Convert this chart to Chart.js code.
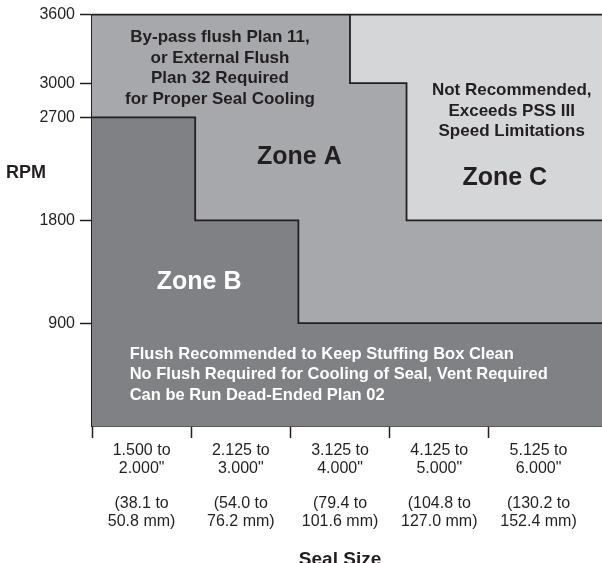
<!DOCTYPE html>
<html>
<head>
<meta charset="utf-8">
<title>Seal zones by RPM and seal size</title>
<script src="https://cdn.jsdelivr.net/npm/chart.js@4.4.1/dist/chart.umd.min.js"></script>
<style>
    html, body { margin: 0; padding: 0; background: #fff; overflow: hidden; }
    #wrap { width: 602px; height: 563px; overflow: hidden; }
</style>
</head>
<body>
<div id="wrap"><canvas id="zoneChart" width="602" height="580"></canvas></div>
<script>
// Seal size categories (x axis), one unit per category
const sizeLabels = [
    ['1.500 to', '2.000"', '', '(38.1 to', '50.8 mm)'],
    ['2.125 to', '3.000"', '', '(54.0 to', '76.2 mm)'],
    ['3.125 to', '4.000"', '', '(79.4 to', '101.6 mm)'],
    ['4.125 to', '5.000"', '', '(104.8 to', '127.0 mm)'],
    ['5.125 to', '6.000"', '', '(130.2 to', '152.4 mm)']
];
const rpmTicks = [900, 1800, 2700, 3000, 3600];

// Zone boundaries (x in size units, y in RPM)
const xEnd = 5.14;
const zoneAX = [0, xEnd];
const zoneAY = [3600, 3600];
const zoneBX = [0, 1.04, 2.08, xEnd];
const zoneBY = [2700, 1800, 900, 900];
const zoneCX = [2.6, 2.6, 3.17, xEnd];
const zoneCY = [3600, 3000, 1800, 1800];

// Notes written inside the zones
const notes = [
    { lines: ['By-pass flush Plan 11,', 'or External Flush', 'Plan 32 Required', 'for Proper Seal Cooling'], x: 1.29, y: 3400, size: 17, color: '#231f20', align: 'center' },
    { lines: ['Zone A'], x: 2.09, y: 2350, size: 25, color: '#231f20', align: 'center' },
    { lines: ['Not Recommended,', 'Exceeds PSS III', 'Speed Limitations'], x: 4.23, y: 2935, size: 17, color: '#231f20', align: 'center' },
    { lines: ['Zone C'], x: 4.16, y: 2167, size: 25, color: '#231f20', align: 'center' },
    { lines: ['Zone B'], x: 1.08, y: 1258, size: 25, color: '#ffffff', align: 'center' },
    { lines: ['Flush Recommended to Keep Stuffing Box Clean', 'No Flush Required for Cooling of Seal, Vent Required', 'Can be Run Dead-Ended Plan 02'], x: 0.38, y: 629, size: 16.5, color: '#ffffff', align: 'left' }
];

const INK = '#231f20';
const FONT = "'Liberation Sans', Arial, Helvetica, sans-serif";

function toPoints(xs, ys) {
    return xs.map((x, i) => ({ x: x, y: ys[i] }));
}

// Draws zone notes and the axis names
const notesPlugin = {
    id: 'notes',
    afterDatasetsDraw(chart) {
        const ctx = chart.ctx;
        const xs = chart.scales.x;
        const ys = chart.scales.y;
        ctx.save();
        ctx.textBaseline = 'middle';
        notes.forEach(n => {
            ctx.font = `bold ${n.size}px ${FONT}`;
            ctx.fillStyle = n.color;
            ctx.textAlign = n.align;
            const px = xs.getPixelForValue(n.x);
            const py = ys.getPixelForValue(n.y);
            n.lines.forEach((line, i) => ctx.fillText(line, px, py + i * 20.5));
        });
        // axis names
        ctx.fillStyle = INK;
        ctx.font = `bold 18px ${FONT}`;
        ctx.textAlign = 'left';
        ctx.fillText('RPM', 6, ys.getPixelForValue(2210));
        ctx.font = `bold 19px ${FONT}`;
        ctx.textAlign = 'center';
        ctx.fillText('Seal Size', xs.getPixelForValue(2.5), 560);
        ctx.restore();
    }
};

Chart.defaults.font.family = FONT;
Chart.defaults.color = INK;

new Chart(document.getElementById('zoneChart'), {
    type: 'line',
    data: {
        datasets: [
            {
                // top edge of the diagram
                label: 'Top',
                data: toPoints(zoneAX, zoneAY),
                borderColor: INK,
                borderWidth: 1.8,
                fill: false,
                pointRadius: 0,
                clip: { left: 0, top: 3, right: 0, bottom: 0 }
            },
            {
                label: 'Zone C',
                data: toPoints(zoneCX, zoneCY),
                stepped: 'before',
                borderColor: INK,
                borderWidth: 1.8,
                backgroundColor: '#d5d6d8',
                fill: 'end',
                pointRadius: 0
            },
            {
                label: 'Zone B',
                data: toPoints(zoneBX, zoneBY),
                stepped: 'before',
                borderColor: INK,
                borderWidth: 1.8,
                backgroundColor: '#808185',
                fill: 'origin',
                pointRadius: 0
            },
            {
                label: 'Zone A',
                data: toPoints(zoneAX, zoneAY),
                borderWidth: 0,
                backgroundColor: '#a7a8ab',
                fill: 'origin',
                pointRadius: 0
            }
        ]
    },
    options: {
        responsive: false,
        animation: false,
        events: [],
        layout: { padding: { top: 14, right: 0, left: 0, bottom: 0 } },
        plugins: {
            legend: { display: false },
            tooltip: { enabled: false }
        },
        scales: {
            x: {
                type: 'linear',
                min: 0,
                max: xEnd,
                afterBuildTicks: scale => {
                    scale.ticks = [0, 0.5, 1, 1.5, 2, 2.5, 3, 3.5, 4, 4.5].map(v => ({ value: v }));
                },
                afterFit: scale => { scale.height = 154; },
                ticks: {
                    autoSkip: false,
                    maxRotation: 0,
                    padding: 4,
                    font: { size: 16, lineHeight: 1.1 },
                    color: INK,
                    callback: value => Number.isInteger(value) ? '' : sizeLabels[Math.floor(value)]
                },
                grid: {
                    drawOnChartArea: false,
                    tickLength: 12,
                    tickWidth: 1.5,
                    tickColor: c => Number.isInteger(c.tick.value) ? INK : 'rgba(0,0,0,0)'
                },
                border: { display: true, color: INK, width: 1.8 }
            },
            y: {
                min: 0,
                max: 3600,
                afterBuildTicks: scale => {
                    scale.ticks = rpmTicks.map(v => ({ value: v }));
                },
                afterFit: scale => { scale.width = 92; },
                ticks: {
                    padding: 5,
                    font: { size: 16 },
                    color: INK,
                    callback: value => String(value)
                },
                grid: {
                    drawOnChartArea: false,
                    tickLength: 12,
                    tickWidth: 1.5,
                    tickColor: INK
                },
                border: { display: true, color: INK, width: 1.8 }
            }
        }
    },
    plugins: [notesPlugin]
});
</script>
</body>
</html>
